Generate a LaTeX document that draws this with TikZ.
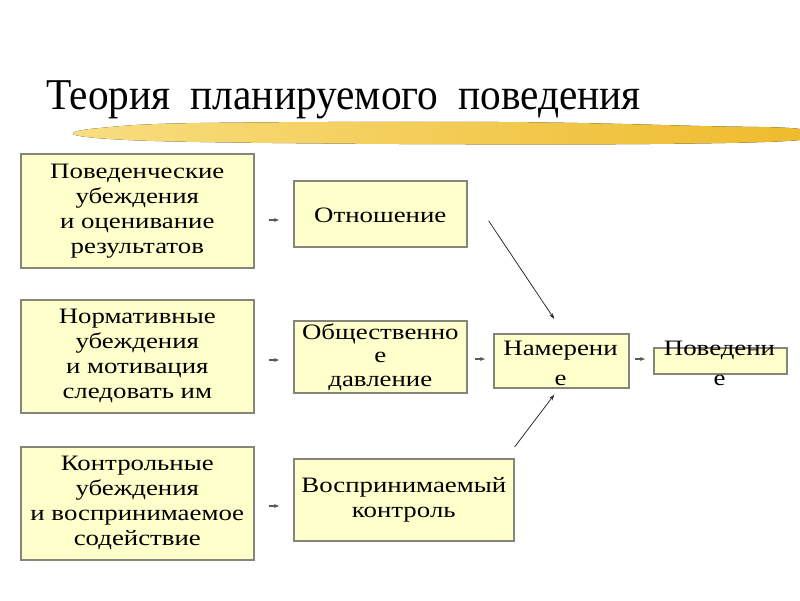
\documentclass[tikz,border=0pt]{standalone}
\usepackage{fontspec}
\setmainfont{Liberation Serif}
\newfontfamily\bxfont[FakeStretch=1.22]{Liberation Serif}
\newfontfamily\ttlfont[FakeStretch=0.94]{Liberation Serif}
\usetikzlibrary{arrows.meta}
\definecolor{boxfill}{HTML}{FFFFCC}
\definecolor{boxline}{HTML}{85857A}
\definecolor{brushA}{HTML}{F8DE80}
\definecolor{brushM}{HTML}{F2C640}
\definecolor{brushB}{HTML}{EEBA2A}
\begin{document}
\begin{tikzpicture}[x=1pt,y=-1pt,
  box/.style={draw=boxline, line width=1.6pt, fill=boxfill, inner sep=0pt, anchor=north west},
  txt/.style={align=center, inner sep=0pt, font=\bxfont\fontsize{22}{25}\selectfont},
  sm/.style={draw=gray!70!black, line width=1.2pt, -{Stealth[length=5pt,width=4pt]}},
  diag/.style={draw=gray!35!black, line width=0.8pt, -{Stealth[length=6pt,width=4pt]}}]
\path[use as bounding box] (0,0) rectangle (800,600);
% title
\node[anchor=base west, inner sep=0pt, font=\ttlfont\fontsize{44}{50}\selectfont] (title) at (46,109) {Теория\hspace{20pt}планируемого\hspace{20pt}поведения};
% brush stroke
\fill[left color=brushA, middle color=brushM, right color=brushB]
  plot[smooth cycle, tension=0.6] coordinates {(73,134) (100,128) (200,123) (500,122) (700,126) (800,129) (800,140) (650,144) (400,144) (200,142) (110,139)};
% left boxes
\node[box, minimum width=233pt, minimum height=114pt] (b1) at (20,153) {};
\node[box, minimum width=233pt, minimum height=113pt] (b2) at (20,299) {};
\node[box, minimum width=233pt, minimum height=113pt] (b3) at (20,446) {};
\node[txt] (t1) at (b1.center) {Поведенческие\\убеждения\\и оценивание\\результатов};
\node[txt] (t2) at (b2.center) {Нормативные\\убеждения\\и мотивация\\следовать им};
\node[txt] (t3) at (b3.center) {Контрольные\\убеждения\\и воспринимаемое\\содействие};
% middle boxes
\node[box, minimum width=173pt, minimum height=66pt] (m1) at (293,180) {};
\node[box, minimum width=173pt, minimum height=72pt] (m2) at (293,320) {};
\node[box, minimum width=220pt, minimum height=82pt] (m3) at (293,458) {};
\node[txt] (u1) at ([yshift=-2pt]m1.center) {Отношение};
\node[txt, font=\bxfont\fontsize{22}{23.5}\selectfont] (u2) at ([yshift=0pt]m2.center) {Общественно\\е\\давление};
\node[txt] (u3) at (m3.center) {Воспринимаемый\\контроль};
% right boxes
\node[box, minimum width=135pt, minimum height=54pt] (n) at (493,333) {};
\node[box, minimum width=133pt, minimum height=26pt] (p) at (653,347) {};
\node[txt, font=\bxfont\fontsize{22}{30}\selectfont] (nt) at (560.5,363) {Намерени\\е};
\node[txt, font=\bxfont\fontsize{22}{30}\selectfont] (pt) at (719.5,363) {Поведени\\е};
% small arrows
\draw[sm] ([xshift=14pt]b1.east |- 0,220) -- ([xshift=-14pt]m1.west |- 0,220);
\draw[sm] ([xshift=14pt]b2.east |- 0,360) -- ([xshift=-14pt]m2.west |- 0,360);
\draw[sm] ([xshift=14pt]b3.east |- 0,506) -- ([xshift=-14pt]m3.west |- 0,506);
\draw[sm] ([xshift=7pt]m2.east |- 0,359) -- ([xshift=-8pt]n.west |- 0,359);
\draw[sm] ([xshift=5pt]n.east |- 0,359) -- ([xshift=-8pt]p.west |- 0,359);
% diagonal arrows
\draw[diag] ([shift={(21,7)}]m1.east) -- ([shift={(-7,-14)}]n.north);
\draw[diag] ([shift={(0,-11)}]m3.north east) -- ([shift={(-7,6)}]n.south);
\end{tikzpicture}
\end{document}
